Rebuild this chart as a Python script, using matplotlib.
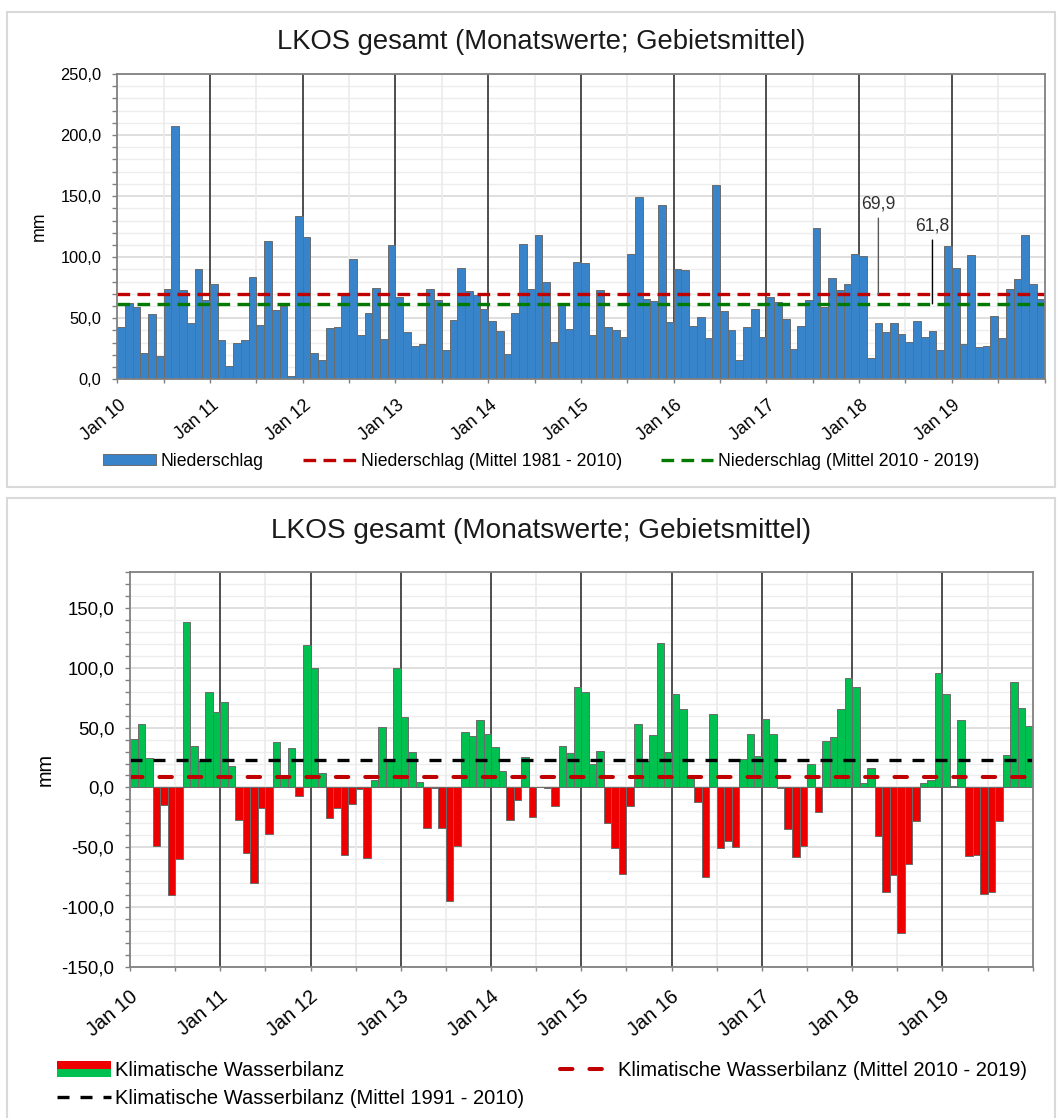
import numpy as np
import matplotlib
matplotlib.use('Agg')
import matplotlib.pyplot as plt
from matplotlib.ticker import MultipleLocator, FuncFormatter
from matplotlib.patches import Rectangle
from matplotlib.lines import Line2D
from matplotlib.legend_handler import HandlerBase
import matplotlib.transforms as mtransforms

plt.rcParams['font.family'] = ['Liberation Sans', 'DejaVu Sans']

# ---------------- data ----------------
years = ['10', '11', '12', '13', '14', '15', '16', '17', '18', '19']
tick_labels = ['Jan ' + y for y in years]

niederschlag = [
    43.1, 62.2, 59.0, 21.8, 53.2, 19.1, 74.2, 207.4, 73.4, 45.9, 90.3, 65.0,
    78.1, 32.2, 10.9, 30.0, 32.2, 84.1, 44.5, 113.0, 56.8, 59.8, 2.7, 134.0,
    116.3, 21.8, 15.8, 42.0, 42.8, 71.0, 98.3, 36.3, 54.0, 75.0, 33.3, 109.7,
    67.1, 38.8, 27.6, 28.7, 74.2, 65.0, 23.7, 48.6, 91.2, 72.0, 69.0, 57.6,
    47.5, 39.6, 20.5, 54.0, 110.8, 74.2, 117.9, 80.0, 30.8, 61.4, 41.2, 95.8,
    95.3, 36.3, 72.9, 42.8, 40.4, 34.9, 102.6, 149.0, 65.5, 63.9, 142.5, 46.7,
    90.3, 89.5, 43.7, 50.8, 34.1, 158.8, 55.7, 40.4, 15.6, 42.8, 57.6, 34.9,
    67.1, 63.0, 49.4, 25.1, 43.7, 65.0, 124.2, 59.0, 83.2, 72.9, 78.3, 102.3,
    100.7, 17.2, 45.9, 38.8, 45.9, 37.1, 30.8, 47.5, 34.9, 39.6, 23.7, 108.9,
    91.2, 29.2, 101.5, 26.7, 27.6, 51.6, 34.1, 74.2, 82.4, 117.9, 78.1, 65.8,
]
ns_mittel_1981_2010 = 69.9
ns_mittel_2010_2019 = 61.8

wasserbilanz = [
    40.6, 52.8, 24.4, -48.9, -14.7, -89.7, -59.4, 138.0, 34.4, 21.9, 79.4, 63.3,
    71.7, 18.3, -27.2, -54.7, -79.7, -16.9, -38.6, 37.8, 7.8, 32.8, -6.9, 118.6,
    100.0, 11.9, -25.3, -17.5, -56.7, -13.9, -1.4, -58.9, 6.1, 50.6, 22.5, 100.0,
    58.9, 29.4, 4.4, -34.2, -0.5, -34.2, -94.4, -48.6, 46.1, 42.8, 56.1, 45.0,
    33.6, 13.6, -27.2, -10.8, 25.3, -24.4, 0.8, -0.5, -15.3, 34.2, 28.9, 83.6,
    79.4, 19.7, 30.8, -29.4, -50.3, -72.5, -15.3, 53.3, 21.9, 43.6, 120.6, 29.4,
    77.8, 65.8, 9.2, -11.9, -75.0, 61.7, -50.3, -45.0, -49.4, 23.9, 45.0, 26.1,
    57.5, 44.4, -0.5, -34.7, -58.0, -48.9, 19.7, -20.8, 38.6, 41.9, 65.3, 91.1,
    83.6, 3.6, 16.1, -40.6, -87.2, -72.8, -121.7, -63.6, -27.8, 3.6, 6.4, 95.3,
    77.8, 1.4, 56.1, -57.2, -56.4, -88.6, -87.5, -27.8, 27.5, 87.8, 66.1, 51.4,
]
wb_mittel_1991_2010 = 23.0
wb_mittel_2010_2019 = 8.6

# annotation positions (month index on the axis)
annot_month = [98.5, 105.5]

# ---------------- styling ----------------
BLUE = '#3784CB'
GREEN = '#00C050'
RED = '#EE0000'
EDGE = '#6B6B6B'
SPINE = '#808080'
TITLE = 'LKOS gesamt (Monatswerte; Gebietsmittel)'

W, H = 1057, 1118
fig = plt.figure(figsize=(W / 100, H / 100), dpi=100)
fig.patch.set_facecolor('white')


def fx(px):
    return px / W


def fy(py):
    return 1 - py / H


# panel frames
for (x0, y0, x1, y1) in [(7, 12, 1055, 487), (7, 498, 1055, 1120)]:
    fig.add_artist(Rectangle((fx(x0), fy(y1)), fx(x1 - x0), (y1 - y0) / H,
                             transform=fig.transFigure, fill=False,
                             ec='#D9D9D9', lw=1.5, zorder=0))

n = len(niederschlag)
x = np.arange(n)
fmt = FuncFormatter(lambda v, p: f'{v:.1f}'.replace('.', ','))


def style_axes(ax, ymin, ymax, label_pad_px, xshift_px, ysize, xsize, lsize):
    ax.set_xlim(0, n)
    ax.set_ylim(ymin, ymax)
    ax.set_facecolor('white')
    # gridlines
    for v in np.arange(ymin, ymax + 0.1, 10):
        if v % 50 == 0:
            ax.axhline(v, color='#D9D9D9', lw=1.2, zorder=0.5)
        else:
            ax.axhline(v, color='#EDEDED', lw=1.0, zorder=0.4)
    for m in range(6, n, 12):
        ax.axvline(m, color='#EBEBEB', lw=1.2, zorder=0.6)
    for m in range(12, n, 12):
        ax.axvline(m, color='#404040', lw=1.3, zorder=1)
    for s in ax.spines.values():
        s.set_color(SPINE)
        s.set_linewidth(1.3)
        s.set_zorder(6)
    ax.yaxis.set_major_locator(MultipleLocator(50))
    ax.yaxis.set_minor_locator(MultipleLocator(10))
    ax.yaxis.set_major_formatter(fmt)
    ax.tick_params(axis='y', which='both', direction='out', length=3.3,
                   width=1.0, color=SPINE, labelsize=ysize, pad=8.0)
    ticks = list(range(0, n + 1, 6))
    labels = []
    for t in ticks:
        if t % 12 == 0 and t // 12 < len(tick_labels):
            labels.append(tick_labels[t // 12])
        else:
            labels.append('')
    ax.set_xticks(ticks)
    ax.set_xticklabels(labels, rotation=40, ha='right', va='top',
                       rotation_mode='anchor')
    ax.tick_params(axis='x', which='both', direction='out', length=3.0,
                   width=1.0, color=SPINE, labelsize=xsize,
                   pad=label_pad_px * 0.72)
    off = mtransforms.ScaledTranslation(xshift_px / 100, 0, fig.dpi_scale_trans)
    for lbl in ax.get_xticklabels():
        lbl.set_transform(lbl.get_transform() + off)
    ax.set_ylabel('mm', fontsize=lsize)


# ---------------- top chart ----------------
ax1 = fig.add_axes([fx(117.3), fy(379.3), fx(1044.5 - 117.3), (379.3 - 74) / H])
style_axes(ax1, 0, 250, 13, 1, 11.8, 12.8, 12.8)
bars1 = ax1.bar(x, niederschlag, width=1, align='edge', color=BLUE,
                edgecolor=EDGE, linewidth=0.7, zorder=3)
ln_red = ax1.axhline(ns_mittel_1981_2010, color='#C00000', lw=2.4,
                     dashes=(3.8, 2.2), zorder=4)
ln_green = ax1.axhline(ns_mittel_2010_2019, color='#007A00', lw=2.4,
                       dashes=(3.8, 2.2), zorder=4)
ax1.yaxis.set_label_coords(-0.0745, 0.5)

ax1.annotate(f'{ns_mittel_1981_2010:.1f}'.replace('.', ','),
             xy=(annot_month[0], ns_mittel_1981_2010), xytext=(annot_month[0], 143.5),
             ha='center', va='center', fontsize=12.7, color='#303030', zorder=7,
             arrowprops=dict(arrowstyle='-', color='#595959', lw=1.0,
                             shrinkA=2, shrinkB=0))
ax1.annotate(f'{ns_mittel_2010_2019:.1f}'.replace('.', ','),
             xy=(annot_month[1], ns_mittel_2010_2019), xytext=(annot_month[1], 125.5),
             ha='center', va='center', fontsize=12.7, color='#303030', zorder=7,
             arrowprops=dict(arrowstyle='-', color='black', lw=1.0,
                             shrinkA=2, shrinkB=0))

fig.text(fx(541), fy(42), TITLE, ha='center', va='center', fontsize=19.7,
         color='#1A1A1A')

leg1 = ax1.legend([bars1, ln_red, ln_green],
                  ['Niederschlag', 'Niederschlag (Mittel 1981 - 2010)',
                   'Niederschlag (Mittel 2010 - 2019)'],
                  loc='center left',
                  bbox_to_anchor=(fx(103), fy(461)), bbox_transform=fig.transFigure,
                  ncol=3, frameon=False, fontsize=12.7, borderpad=0,
                  borderaxespad=0, handlelength=3.0, handleheight=0.6,
                  handletextpad=0.28, columnspacing=2.2)

# ---------------- bottom chart ----------------
ax2 = fig.add_axes([fx(130), fy(967.3), fx(1032.7 - 130), (967.3 - 571.7) / H])
style_axes(ax2, -150, 180, 16, -1, 13.4, 14.3, 14.3)
wb_colors = [GREEN if v >= 0 else RED for v in wasserbilanz]
ax2.bar(x, wasserbilanz, width=1, align='edge', color=wb_colors, edgecolor=EDGE,
        linewidth=0.7, zorder=3)
ax2.axhline(wb_mittel_1991_2010, color='black', lw=2.4, dashes=(3.6, 3.3), zorder=4)
ax2.axhline(wb_mittel_2010_2019, color='#C00000', lw=2.9, dashes=(3.1, 4.2),
            dash_capstyle='round', zorder=4)
ax2.yaxis.set_label_coords(-0.0831, 0.5)

fig.text(fx(541), fy(531), TITLE, ha='center', va='center', fontsize=20.2,
         color='#1A1A1A')


class SplitKey:
    pass


class SplitHandler(HandlerBase):
    def create_artists(self, legend, orig_handle, xdescent, ydescent, width,
                       height, fontsize, trans):
        top = Rectangle((-xdescent, -ydescent + height / 2), width, height / 2,
                        fc=RED, ec='none', transform=trans)
        bot = Rectangle((-xdescent, -ydescent), width, height / 2,
                        fc=GREEN, ec='none', transform=trans)
        return [top, bot]


h_wb = SplitKey()
h_black = Line2D([], [], color='black', lw=2.4, dashes=(3.6, 3.3))
h_red = Line2D([], [], color='#C00000', lw=2.9, dashes=(3.1, 4.2),
               dash_capstyle='round')
leg2 = ax2.legend([h_wb, h_black, h_red],
                  ['Klimatische Wasserbilanz',
                   'Klimatische Wasserbilanz (Mittel 1991 - 2010)',
                   'Klimatische Wasserbilanz (Mittel 2010 - 2019)'],
                  handler_map={SplitKey: SplitHandler()},
                  loc='upper left', bbox_to_anchor=(fx(57), fy(1061)),
                  bbox_transform=fig.transFigure, ncol=2, frameon=False,
                  fontsize=14.5, borderpad=0, borderaxespad=0,
                  handlelength=2.7, handleheight=0.8, handletextpad=0.2,
                  columnspacing=1.75, labelspacing=0.45)

fig.savefig('out.png', dpi=100, facecolor='white')
